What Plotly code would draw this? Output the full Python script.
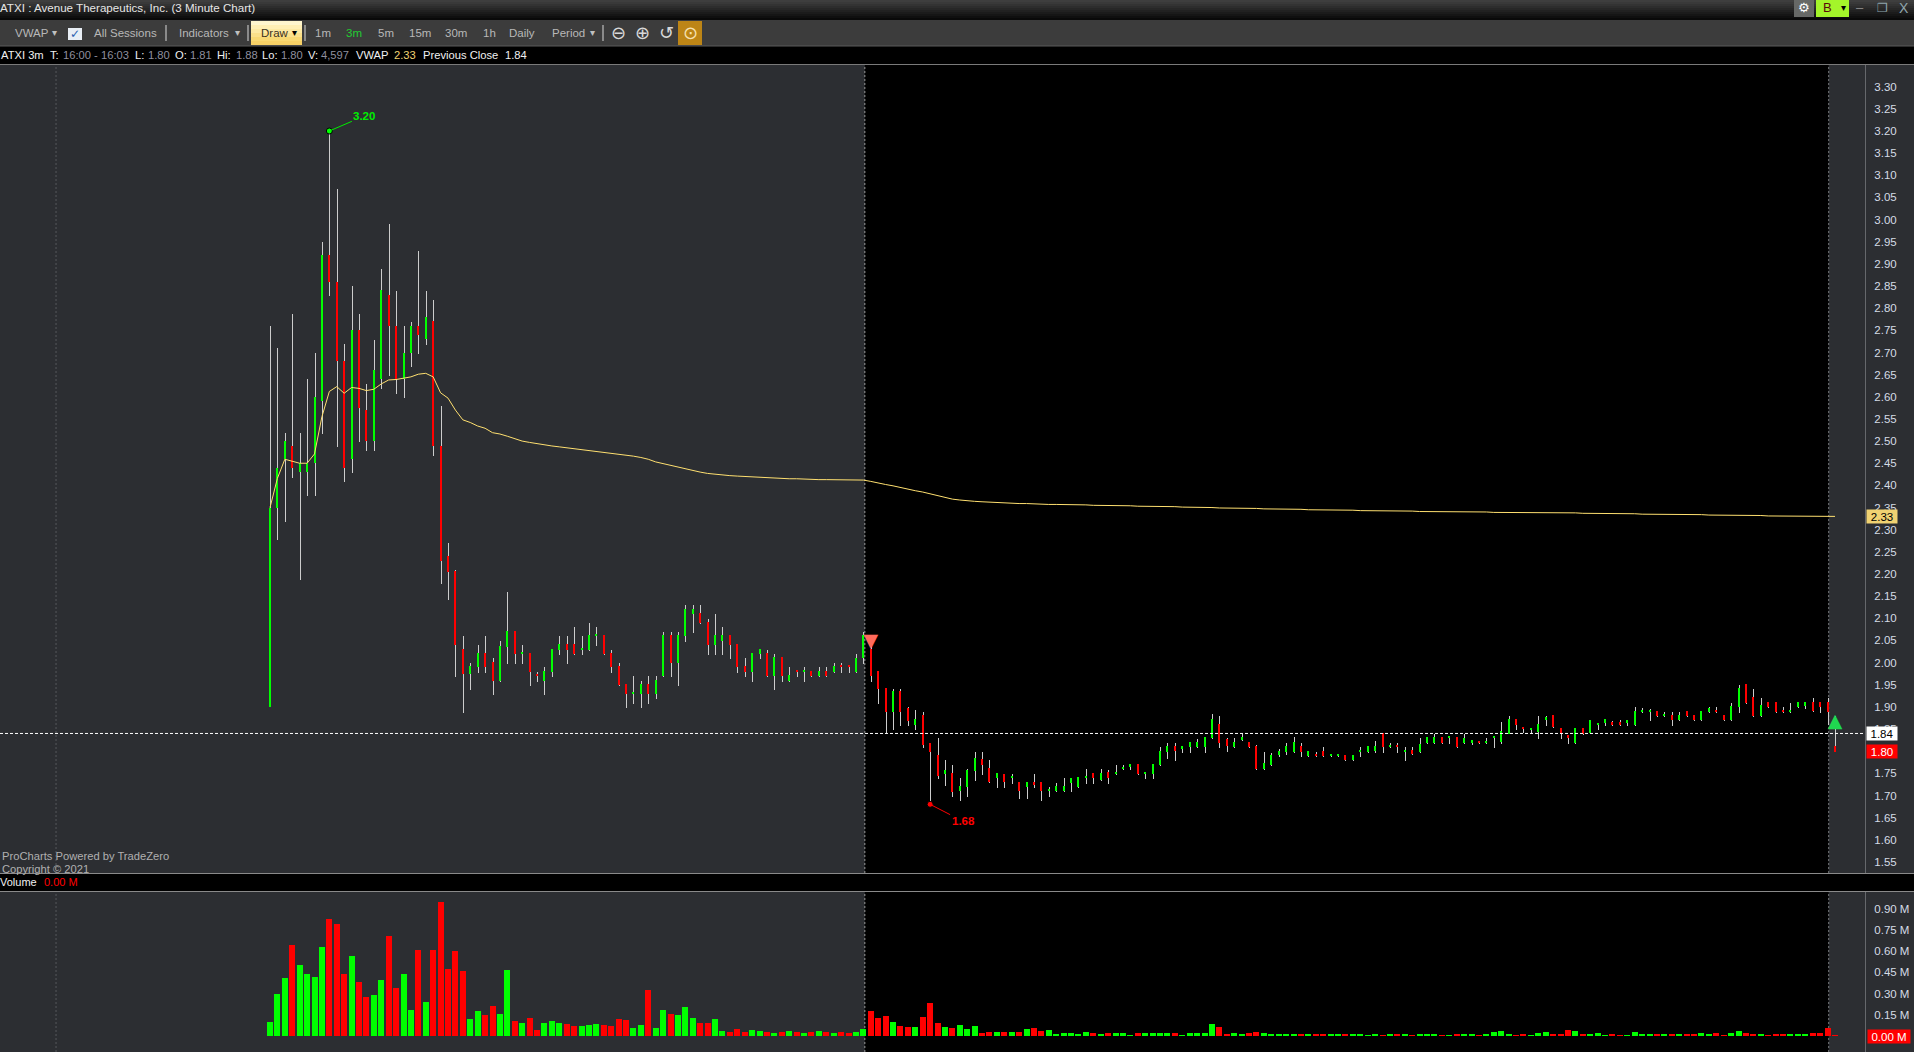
import plotly.graph_objects as go

W, H = 1914, 1052

opens = [1.90,2.35,2.46,2.49,2.43,2.43,2.45,2.59,2.92,2.86,
2.68,2.46,2.75,2.57,2.50,2.64,2.83,2.76,2.64,2.70,
2.76,2.73,2.77,2.49,2.24,2.207,2.03,1.974,1.99,2.022,
2.001,1.958,2.035,2.071,2.019,2.022,1.974,1.958,1.979,2.028,
2.042,2.042,2.028,2.028,2.06,2.062,2.022,1.992,1.952,1.929,
1.929,1.952,1.929,1.97,2.062,1.999,2.06,2.11,2.112,2.092,
2.04,2.049,2.062,2.042,1.992,1.979,2.019,2.022,1.97,2.013,
1.958,1.983,1.979,1.981,1.97,1.981,1.979,1.995,1.995,1.979,
2.01,2.031,1.981,1.943,1.889,1.936,1.898,1.859,1.882,1.818,
1.791,1.749,1.751,1.71,1.719,1.755,1.782,1.762,1.74,1.749,
1.74,1.73,1.719,1.73,1.73,1.71,1.71,1.71,1.728,1.719,
1.74,1.751,1.735,1.753,1.749,1.76,1.764,1.771,1.749,1.749,
1.769,1.798,1.812,1.805,1.81,1.81,1.81,1.83,1.861,1.828,
1.81,1.825,1.821,1.812,1.76,1.769,1.791,1.798,1.798,1.812,
1.789,1.794,1.80,1.789,1.789,1.791,1.78,1.798,1.798,1.80,
1.841,1.81,1.814,1.798,1.803,1.798,1.818,1.818,1.832,1.83,
1.832,1.818,1.818,1.823,1.818,1.83,1.821,1.839,1.873,1.855,
1.848,1.843,1.871,1.882,1.852,1.837,1.818,1.852,1.841,1.859,
1.864,1.866,1.866,1.864,1.859,1.889,1.889,1.891,1.88,1.882,
1.871,1.891,1.882,1.871,1.889,1.893,1.882,1.871,1.90,1.952,
1.922,1.88,1.911,1.911,1.893,1.889,1.90,1.902,1.911,1.911,
1.911,1.812]

closes = [2.35,2.44,2.50,2.44,2.45,2.45,2.60,2.92,2.86,2.68,
2.44,2.75,2.575,2.50,2.66,2.84,2.76,2.64,2.70,2.76,
2.74,2.78,2.49,2.23,2.205,2.04,1.974,1.992,2.022,1.99,
1.958,2.037,2.071,2.019,2.024,1.979,1.97,1.981,2.031,2.042,
2.028,2.019,2.033,2.062,2.065,2.019,1.99,1.949,1.929,1.934,
1.952,1.929,1.961,2.062,1.999,2.062,2.121,2.121,2.089,2.04,
2.062,2.062,2.04,1.99,1.979,2.022,2.031,1.97,2.013,1.97,
1.972,1.979,1.983,1.97,1.981,1.97,1.992,1.99,1.99,2.01,
2.062,1.97,1.94,1.889,1.936,1.889,1.868,1.873,1.814,1.798,
1.744,1.758,1.708,1.721,1.758,1.785,1.769,1.73,1.751,1.73,
1.744,1.71,1.73,1.724,1.71,1.715,1.721,1.721,1.74,1.742,
1.744,1.74,1.751,1.74,1.753,1.764,1.771,1.749,1.753,1.771,
1.80,1.812,1.80,1.812,1.821,1.821,1.832,1.873,1.818,1.812,
1.821,1.832,1.81,1.76,1.773,1.791,1.80,1.812,1.821,1.798,
1.80,1.789,1.789,1.794,1.794,1.78,1.791,1.803,1.812,1.812,
1.81,1.814,1.81,1.803,1.794,1.816,1.832,1.832,1.818,1.834,
1.81,1.83,1.825,1.818,1.823,1.834,1.846,1.873,1.859,1.85,
1.852,1.861,1.877,1.855,1.839,1.83,1.852,1.839,1.871,1.864,
1.873,1.859,1.859,1.871,1.891,1.893,1.893,1.88,1.884,1.871,
1.882,1.88,1.871,1.891,1.898,1.889,1.871,1.902,1.943,1.909,
1.88,1.904,1.90,1.889,1.889,1.893,1.911,1.911,1.891,1.90,
1.889,1.798]

highs = [2.76,2.71,2.518,2.788,2.518,2.64,2.698,2.949,3.20,3.069,
2.719,2.85,2.788,2.629,2.728,2.889,2.99,2.839,2.76,2.769,
2.929,2.839,2.819,2.579,2.27,2.209,2.06,1.999,2.04,2.06,
2.01,2.049,2.159,2.071,2.04,2.022,1.979,1.99,2.031,2.06,
2.06,2.08,2.06,2.089,2.08,2.062,2.028,1.999,1.952,1.97,
1.958,1.97,1.97,2.069,2.069,2.069,2.13,2.13,2.13,2.098,
2.11,2.08,2.062,2.042,2.01,2.022,2.031,2.028,2.019,2.013,
1.99,1.983,1.99,1.981,1.99,1.99,1.999,1.999,1.995,2.019,
2.069,2.05,1.981,1.943,1.94,1.94,1.90,1.893,1.889,1.818,
1.83,1.78,1.769,1.739,1.76,1.798,1.798,1.78,1.751,1.749,
1.749,1.73,1.73,1.749,1.73,1.719,1.728,1.739,1.74,1.742,
1.76,1.751,1.76,1.758,1.769,1.769,1.771,1.771,1.753,1.771,
1.81,1.818,1.818,1.812,1.821,1.828,1.832,1.884,1.879,1.83,
1.83,1.839,1.821,1.814,1.798,1.796,1.805,1.818,1.832,1.818,
1.80,1.798,1.81,1.794,1.794,1.791,1.791,1.81,1.812,1.823,
1.841,1.818,1.818,1.81,1.81,1.83,1.832,1.839,1.832,1.834,
1.832,1.839,1.825,1.823,1.83,1.834,1.866,1.879,1.873,1.855,
1.852,1.879,1.879,1.882,1.852,1.837,1.852,1.852,1.871,1.864,
1.873,1.868,1.871,1.871,1.90,1.898,1.895,1.891,1.889,1.889,
1.889,1.891,1.882,1.891,1.90,1.90,1.882,1.909,1.95,1.952,
1.94,1.92,1.911,1.911,1.90,1.909,1.911,1.911,1.92,1.911,
1.92,1.88]

lows = [1.90,2.277,2.317,2.417,2.187,2.376,2.376,2.516,2.828,2.487,
2.408,2.428,2.498,2.478,2.478,2.618,2.647,2.606,2.597,2.667,
2.697,2.717,2.466,2.178,2.141,1.968,1.886,1.938,1.977,1.977,
1.927,1.956,1.997,1.997,1.997,1.947,1.956,1.927,1.967,2.017,
1.997,2.017,2.017,2.026,2.037,2.017,1.976,1.947,1.897,1.907,
1.897,1.907,1.918,1.967,1.967,1.947,2.046,2.067,2.087,2.017,
2.017,2.017,2.008,1.976,1.967,1.956,2.008,1.967,1.938,1.956,
1.956,1.967,1.956,1.967,1.967,1.967,1.976,1.976,1.976,1.976,
1.997,1.956,1.907,1.839,1.848,1.857,1.857,1.848,1.807,1.682,
1.737,1.721,1.697,1.688,1.697,1.733,1.746,1.728,1.717,1.717,
1.726,1.692,1.692,1.717,1.688,1.697,1.708,1.708,1.708,1.717,
1.726,1.726,1.733,1.726,1.746,1.758,1.758,1.746,1.737,1.737,
1.767,1.782,1.778,1.796,1.796,1.807,1.796,1.828,1.807,1.798,
1.807,1.823,1.807,1.758,1.758,1.767,1.787,1.791,1.796,1.787,
1.787,1.787,1.787,1.787,1.787,1.778,1.778,1.787,1.796,1.796,
1.796,1.807,1.796,1.778,1.791,1.796,1.816,1.816,1.816,1.816,
1.807,1.816,1.814,1.816,1.816,1.807,1.816,1.839,1.848,1.841,
1.841,1.828,1.857,1.852,1.828,1.816,1.816,1.837,1.84,1.848,
1.857,1.857,1.857,1.857,1.857,1.886,1.868,1.877,1.877,1.857,
1.868,1.877,1.868,1.868,1.886,1.886,1.868,1.868,1.886,1.907,
1.877,1.877,1.898,1.886,1.886,1.886,1.898,1.895,1.889,1.886,
1.859,1.798]

vwap = [2.35,2.416,2.459,2.454,2.45,2.45,2.471,2.555,2.612,2.623,
2.608,2.621,2.619,2.614,2.617,2.629,2.638,2.639,2.642,2.645,
2.651,2.653,2.645,2.609,2.597,2.57,2.548,2.542,2.534,2.529,
2.519,2.516,2.511,2.505,2.500,2.497,2.494,2.491,2.489,2.487,
2.485,2.483,2.481,2.479,2.477,2.475,2.473,2.471,2.468,2.466,
2.463,2.459,2.453,2.449,2.445,2.441,2.437,2.433,2.430,2.427,
2.425,2.423,2.422,2.421,2.420,2.419,2.418,2.417,2.416,2.416,
2.415,2.415,2.414,2.414,2.413,2.413,2.413,2.412,2.412,2.412,
2.412,2.409,2.405,2.402,2.399,2.395,2.391,2.388,2.385,2.381,
2.376,2.372,2.369,2.367,2.365,2.364,2.363,2.362,2.361,2.360,
2.360,2.359,2.359,2.358,2.358,2.357,2.357,2.357,2.356,2.356,
2.356,2.355,2.355,2.355,2.354,2.354,2.354,2.353,2.353,2.353,
2.352,2.352,2.352,2.351,2.351,2.351,2.350,2.350,2.349,2.349,
2.349,2.348,2.348,2.348,2.347,2.347,2.347,2.346,2.346,2.346,
2.345,2.345,2.345,2.344,2.344,2.344,2.344,2.343,2.343,2.343,
2.343,2.342,2.342,2.342,2.342,2.341,2.341,2.341,2.341,2.341,
2.340,2.340,2.340,2.340,2.340,2.339,2.339,2.339,2.339,2.339,
2.339,2.338,2.338,2.338,2.338,2.338,2.338,2.337,2.337,2.337,
2.337,2.336,2.336,2.336,2.336,2.335,2.335,2.335,2.335,2.335,
2.334,2.334,2.334,2.334,2.333,2.333,2.333,2.333,2.332,2.332,
2.332,2.332,2.331,2.331,2.331,2.331,2.330,2.330,2.330,2.330,
2.33,2.33]

volumes = [.097,.30,.407,.64,.50,.435,.414,.626,.824,.789,
.435,.563,.379,.273,.287,.393,.704,.337,.435,.181,
.605,.238,.605,.944,.471,.598,.457,.118,.174,.146,
.21,.153,.464,.104,.089,.125,.04,.089,.104,.089,
.082,.068,.068,.075,.082,.075,.068,.118,.111,.054,
.075,.322,.054,.181,.153,.146,.202,.125,.089,.089,
.118,.033,.026,.047,.026,.04,.035,.028,.021,.028,
.035,.028,.021,.028,.035,.028,.021,.028,.021,.028,
.049,.177,.127,.141,.099,.071,.064,.064,.134,.233,
.092,.064,.056,.078,.049,.071,.021,.028,.028,.028,
.028,.028,.049,.056,.035,.042,.014,.021,.021,.014,
.028,.021,.014,.021,.021,.021,.007,.021,.021,.021,
.021,.021,.021,.007,.021,.021,.021,.085,.064,.014,
.021,.014,.021,.028,.021,.014,.014,.014,.014,.014,
.014,.014,.014,.014,.014,.012,.012,.012,.005,.012,
.005,.012,.012,.012,.005,.012,.012,.012,.005,.005,
.012,.012,.012,.005,.012,.028,.033,.012,.005,.012,
.005,.024,.028,.012,.012,.042,.035,.012,.012,.019,
.005,.012,.005,.005,.025,.012,.012,.012,.012,.012,
.012,.012,.012,.019,.012,.019,.005,.019,.033,.019,
.012,.012,.005,.012,.012,.012,.012,.012,.019,.019,
.054,.007]

price_ticks = [1.55,1.60,1.65,1.70,1.75,1.80,1.85,1.90,1.95,2.00,2.05,2.10,2.15,2.20,2.25,2.30,
               2.35,2.40,2.45,2.50,2.55,2.60,2.65,2.70,2.75,2.80,2.85,2.90,2.95,3.00,3.05,3.10,3.15,3.20,3.25,3.30]
volume_ticks = [0.15,0.30,0.45,0.60,0.75,0.90]
volume_labels = ["0.15 M","0.30 M","0.45 M","0.60 M","0.75 M","0.90 M"]

prev_close = 1.84
last_price = 1.80
last_vwap = 2.33
high_bar, high_price = 8, 3.20
low_bar, low_price = 89, 1.68
session_pre, session_start, session_end = -28.85, 80.2, 210.15
signal_down_bar, signal_down_price = 81, 2.047
signal_up_bar, signal_up_price = 211, 1.866

n = len(opens)
assert all(len(a) == n for a in (closes, highs, lows, vwap, volumes)), [len(a) for a in (opens, closes, highs, lows, vwap, volumes)]
bars = list(range(n))

BG = "#2c2e32"
GREEN = "#00ff00"
RED = "#ff0000"
FONT = "Liberation Sans"
up = [c >= o for o, c in zip(opens, closes)]

fig = go.Figure()
# wicks (slightly translucent colour makes plotly snap the edges to whole pixels)
fig.add_trace(go.Bar(x=bars, base=lows, y=[h - l for h, l in zip(highs, lows)], width=1 / 7.417, offset=0,
                     marker=dict(color="rgba(205,205,205,0.995)", line_width=0), hoverinfo="skip"))
# bodies
fig.add_trace(go.Bar(x=bars, base=[min(o, c) for o, c in zip(opens, closes)],
                     y=[abs(o - c) for o, c in zip(opens, closes)], width=2 / 7.417, offset=-1 / 7.417,
                     marker=dict(color=["rgba(0,255,0,0.995)" if u else "rgba(255,0,0,0.995)" for u in up], line_width=0),
                     hoverinfo="skip"))
fig.add_trace(go.Scatter(x=bars, y=vwap, mode="lines", line=dict(color="#ffe070", width=1), hoverinfo="skip"))
fig.add_trace(go.Scatter(x=[high_bar], y=[high_price], mode="markers",
                         marker=dict(color="#00ff00", size=6, line=dict(color="#000", width=1)), hoverinfo="skip"))
fig.add_trace(go.Scatter(x=[low_bar], y=[low_price], mode="markers",
                         marker=dict(color="#ff0000", size=6, line=dict(color="#000", width=1)), hoverinfo="skip"))
fig.add_trace(go.Scatter(x=[signal_down_bar], y=[signal_down_price], mode="text", text=["▼"],
                         textfont=dict(family="DejaVu Sans", size=19, color="#ff6a5c"), hoverinfo="skip"))
fig.add_trace(go.Scatter(x=[signal_up_bar], y=[signal_up_price], mode="text", text=["▲"],
                         textfont=dict(family="DejaVu Sans", size=19, color="#20d850"), hoverinfo="skip"))
fig.add_trace(go.Bar(x=bars, y=volumes, width=6 / 7.417, xaxis="x2", yaxis="y2",
                     marker=dict(color=[GREEN if u else RED for u in up], line_width=0), hoverinfo="skip"))


def py(y):
    return 1 - y / H


shapes = []


def rect(x0, y0, x1, y1, color):
    shapes.append(dict(type="rect", xref="paper", yref="paper", x0=x0 / W, x1=x1 / W, y0=py(y0), y1=py(y1),
                       fillcolor=color, line_width=0, layer="above"))


def hline(x0, x1, y, color):
    shapes.append(dict(type="line", xref="paper", yref="paper", x0=x0 / W, x1=x1 / W, y0=py(y), y1=py(y),
                       line=dict(color=color, width=1), layer="above"))


def vline(x, y0, y1, color):
    shapes.append(dict(type="line", xref="paper", yref="paper", x0=x / W, x1=x / W, y0=py(y0), y1=py(y1),
                       line=dict(color=color, width=1), layer="above"))


# black session region in both panels
for xr, yr in (("x", "y domain"), ("x2", "y2 domain")):
    shapes.append(dict(type="rect", xref=xr, yref=yr, x0=session_start, x1=session_end, y0=0, y1=1,
                       fillcolor="#000000", line_width=0, layer="below"))
    for sx, col in ((session_pre, "#55575b"), (session_start, "#9a9a9a"), (session_end, "#77797d")):
        shapes.append(dict(type="line", xref=xr, yref=yr, x0=sx, x1=sx, y0=0, y1=1,
                           line=dict(color=col, width=1, dash="2px,2px"), layer="below"))
shapes.append(dict(type="line", xref="x domain", yref="y", x0=0, x1=1, y0=prev_close, y1=prev_close,
                   line=dict(color="#ffffff", width=1, dash="3px,2px"), layer="above"))

# window chrome
strips = ["#3e3e3e", "#393939", "#333333", "#2d2d2d", "#272727", "#212121", "#1b1b1b", "#151515", "#0f0f0f", "#090909"]
for k, c in enumerate(strips):
    rect(0, k * 2, W, k * 2 + 2, c)
rect(0, 20, W, 46, "#3c3c3c")
rect(0, 46, W, 64, "#000000")
hline(0, W, 46, "#5a5a5a")
hline(0, W, 64.5, "#7a7a7a")
rect(0, 873, W, 891, "#000000")
hline(0, W, 873.5, "#8a8a8a")
hline(0, W, 891.5, "#8a8a8a")
vline(1865.5, 65, 873, "#66686c")
vline(1865.5, 892, H, "#66686c")
# Draw button
for k, c in enumerate(["#fff6cf", "#ffefb5", "#fde9a2", "#fbe08a", "#f8d873", "#f6d066"]):
    rect(251, 21 + k * 4, 302, 25 + k * 4, c)
rect(678, 21, 702, 45, "#bd8516")
rect(1794, 0, 1814, 17, "#666866")
rect(1816, 0, 1849, 17, "#a4f52a")
rect(68, 28, 82, 40, "#e8eef5")
for sx in (166, 248, 305, 603):
    vline(sx, 25, 41, "#d8d8d8")

ann = []


def T(x, y, text, color="#c8c8c8", size=12, family=FONT, anchor="left", **kw):
    ann.append(dict(xref="paper", yref="paper", x=x / W, y=py(y), text=text, showarrow=False, xanchor=anchor,
                    yanchor="middle", font=dict(family=family, size=size, color=color), borderpad=0, borderwidth=0, **kw))


T(0, 7, "ATXI : Avenue Therapeutics, Inc. (3 Minute Chart)", "#e6e6e6", 11.6)
for x, t in ((15, "VWAP"), (94, "All Sessions"), (179, "Indicators"), (315, "1m"), (378, "5m"), (409, "15m"),
             (445, "30m"), (483, "1h"), (509, "Daily"), (552, "Period")):
    T(x, 33, t, "#b8b8b8", 11.5)
T(346, 33, "3m", "#22cc33", 11.5)
T(261, 33, "Draw", "#3a3020", 11.5)
for x in (54, 237, 294, 592):
    T(x, 33, "▾", "#000000" if x == 294 else "#c0c0c0", 10, "DejaVu Sans", anchor="center")
T(75, 34, "✓", "#2a5fb0", 12, "DejaVu Sans", anchor="center")
T(618, 33, "⊖", "#d8d8d8", 18, "DejaVu Sans", anchor="center")
T(642, 33, "⊕", "#d8d8d8", 18, "DejaVu Sans", anchor="center")
T(666, 33, "↺", "#d8d8d8", 18, "DejaVu Sans", anchor="center")
T(690, 33, "⊙", "#f5e0b0", 18, "DejaVu Sans", anchor="center")

WHITE, DIM = "#f0f0f0", "#8f8f9e"
for x, t, c in ((1, "ATXI 3m", WHITE), (50, "T:", WHITE), (63, "16:00 - 16:03", DIM), (135, "L:", WHITE), (148, "1.80", DIM),
                (175, "O:", WHITE), (190, "1.81", DIM), (217, "Hi:", WHITE), (236, "1.88", DIM), (262, "Lo:", WHITE),
                (281, "1.80", DIM), (308, "V:", WHITE), (321, "4,597", DIM), (356, "VWAP", WHITE), (394, "2.33", "#f0d272"),
                (423, "Previous Close", WHITE), (505, "1.84", WHITE)):
    T(x, 55, t, c, 11.2)

T(1804, 8, "⚙", "#ffffff", 13, "DejaVu Sans", anchor="center")
T(1827, 8, "B", "#5a0a0a", 13, anchor="center")
T(1843, 8, "▾", "#000000", 10, "DejaVu Sans", anchor="center")
T(1860, 8, "–", "#8a8a8a", 13, anchor="center")
T(1882, 8, "❐", "#8fa5ad", 12, "DejaVu Sans", anchor="center")
T(1904, 8, "X", "#8fa5ad", 14, anchor="center")

T(2, 856, "ProCharts Powered by TradeZero", "#b0b0b0", 11.2)
T(2, 869, "Copyright © 2021", "#b0b0b0", 11.2)
T(0, 882, "Volume", "#f0f0f0", 11)
T(44, 882, "0.00 M", "#ff0000", 11)

# value badges on the axes
for val, bg, fg, yr, bx, bw in ((last_vwap, "#f0d272", "#000000", "y", 1882, 30), (prev_close, "#ffffff", "#000000", "y", 1882, 30),
                                (last_price, "#ff0000", "#ffffff", "y", 1882, 30), (0.0, "#ff0000", "#ffffff", "y2", 1889, 42)):
    ann.append(dict(xref="paper", yref=yr, x=bx / W, y=val, showarrow=False, xanchor="center", yanchor="middle",
                    text=f"{val:.2f}" if yr == "y" else f"{val:.2f} M", bgcolor=bg, width=bw, height=13, align="center",
                    font=dict(family=FONT, size=11.5, color=fg), borderpad=0))

# high / low call-outs
ann.append(dict(xref="x", yref="y", x=high_bar, y=high_price, text=f"<b>{high_price:.2f}</b>", showarrow=True, arrowhead=0,
                arrowcolor="#00ee00", arrowwidth=1, ax=35, ay=-15, standoff=2, font=dict(family=FONT, size=11.5, color="#00ee00")))
ann.append(dict(xref="x", yref="y", x=low_bar, y=low_price, text=f"<b>{low_price:.2f}</b>", showarrow=True, arrowhead=0,
                arrowcolor="#ff0000", arrowwidth=1, ax=33, ay=17, standoff=2, font=dict(family=FONT, size=11.5, color="#ff0000")))

xrange_ = [(0 - 270) / 7.417, (1865 - 270) / 7.417]
axis_font = dict(family=FONT, size=11.5, color="#d5dce6")
fig.update_layout(
    width=W, height=H, margin=dict(l=0, r=0, t=0, b=0), showlegend=False, barmode="overlay", bargap=0,
    paper_bgcolor=BG, plot_bgcolor=BG, shapes=shapes, annotations=ann,
    xaxis=dict(domain=[0, 1865 / W], range=xrange_, visible=False, anchor="y"),
    xaxis2=dict(domain=[0, 1865 / W], range=xrange_, visible=False, anchor="y2", matches="x"),
    yaxis=dict(domain=[py(873), py(65)], range=[1.525, 3.349], side="right", anchor="x", showgrid=False, zeroline=False,
               tickvals=price_ticks, ticktext=[f"{v:.2f}" for v in price_ticks], tickfont=axis_font,
               ticks="outside", ticklen=6, tickcolor="rgba(0,0,0,0)", showline=False),
    yaxis2=dict(domain=[0, py(892)], range=[-0.113, 1.017], side="right", anchor="x2", showgrid=False, zeroline=False,
                tickvals=volume_ticks, ticktext=volume_labels, tickfont=axis_font,
                ticks="outside", ticklen=6, tickcolor="rgba(0,0,0,0)", showline=False),
)

fig.write_html("out.html", config=dict(displayModeBar=False),
               post_script="document.body.style.margin='0';document.body.style.overflow='hidden';document.body.style.background='#000';")
